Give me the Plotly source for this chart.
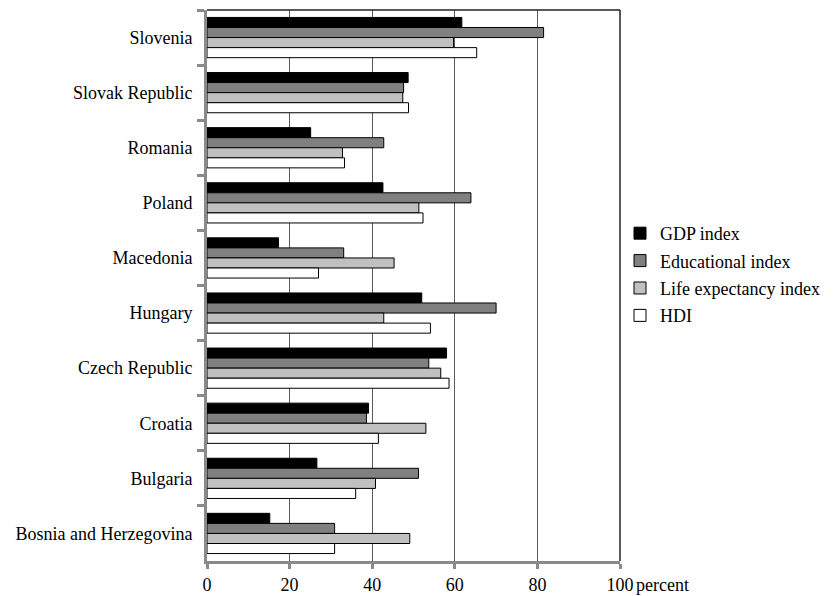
import plotly.graph_objects as go

countries = ["Slovenia", "Slovak Republic", "Romania", "Poland", "Macedonia",
             "Hungary", "Czech Republic", "Croatia", "Bulgaria",
             "Bosnia and Herzegovina"]
gdp_index = [61.7, 48.7, 25.1, 42.6, 17.3, 52.0, 58.0, 39.1, 26.6, 15.2]
educational_index = [81.5, 47.6, 42.8, 63.9, 33.1, 70.0, 53.7, 38.6, 51.2, 30.9]
life_expectancy_index = [59.7, 47.4, 32.8, 51.3, 45.3, 42.8, 56.6, 53.0, 40.8, 49.1]
hdi = [65.3, 48.8, 33.3, 52.3, 27.0, 54.1, 58.6, 41.5, 36.0, 30.9]
x_ticks = [0, 20, 40, 60, 80, 100]

series = [
    ("GDP index", gdp_index, "#000000"),
    ("Educational index", educational_index, "#808080"),
    ("Life expectancy index", life_expectancy_index, "#c0c0c0"),
    ("HDI", hdi, "#ffffff"),
]

FONT = "'Liberation Serif', 'DejaVu Serif', serif"

fig = go.Figure()
for i, (name, vals, color) in enumerate(series):
    fig.add_trace(go.Bar(
        y=countries, x=vals, name=name, orientation="h",
        legendgroup=f"g{i}",
        marker=dict(color=color, line=dict(color="#000000", width=1)),
    ))

fig.update_layout(
    width=835, height=596,
    margin=dict(l=207, r=215, t=10, b=35),
    paper_bgcolor="white", plot_bgcolor="white",
    barmode="group", bargap=0.27, bargroupgap=0,
    font=dict(family=FONT, size=18, color="#000000"),
    legend=dict(x=1.0, xanchor="left", y=0.52, yanchor="middle",
                font=dict(family=FONT, size=18), tracegroupgap=1,
                itemwidth=30, bgcolor="rgba(0,0,0,0)"),
    xaxis=dict(range=[0, 100], tickvals=x_ticks, showgrid=True,
               gridcolor="#5a5a5a", gridwidth=1, zeroline=False,
               showline=True, linecolor="#8a8a8a", linewidth=3,
               ticks="outside", ticklen=5, tickcolor="#8a8a8a", tickwidth=3,
               ticklabelstandoff=0, tickfont=dict(family=FONT, size=18),
               automargin=False, fixedrange=True),
    yaxis=dict(autorange="reversed", showgrid=False, zeroline=False,
               showline=True, linecolor="#8a8a8a", linewidth=3,
               ticks="outside", tickson="boundaries", ticklen=7,
               tickcolor="#8a8a8a", tickwidth=3, automargin=False,
               ticklabelstandoff=8,
               tickfont=dict(family=FONT, size=18), fixedrange=True),
    shapes=[
        dict(type="line", xref="paper", yref="paper", x0=0, x1=1, y0=1, y1=1,
             line=dict(color="#222222", width=1.5)),
        dict(type="line", xref="paper", yref="paper", x0=1, x1=1, y0=0, y1=1,
             line=dict(color="#222222", width=1.5)),
    ],
    annotations=[
        dict(text="percent", xref="paper", yref="paper", x=1.035, y=0,
             xanchor="left", yanchor="top", yshift=-12, showarrow=False,
             font=dict(family=FONT, size=18)),
    ],
)

fig.write_html("out.html")
